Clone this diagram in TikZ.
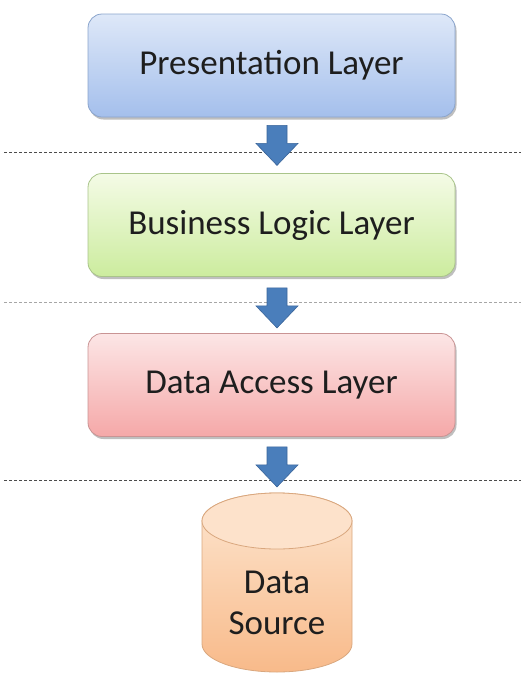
\documentclass[tikz,border=0pt]{standalone}
\usepackage{fontspec}
\setmainfont{Carlito}
\usetikzlibrary{shadows,calc}
\definecolor{txt}{HTML}{1E1E1E}
\definecolor{arrowfill}{HTML}{4A7EBB}
\definecolor{arrowedge}{HTML}{3A659A}
\definecolor{presdraw}{HTML}{8AA4CC}
\definecolor{prestop}{HTML}{DEE8F8}
\definecolor{presbot}{HTML}{A4BFEC}
\definecolor{busdraw}{HTML}{A9C48A}
\definecolor{bustop}{HTML}{F4FBE6}
\definecolor{busbot}{HTML}{CCEC9E}
\definecolor{daldraw}{HTML}{C99494}
\definecolor{daltop}{HTML}{FCE6E6}
\definecolor{dalbot}{HTML}{F5A8A8}
\definecolor{dsdraw}{HTML}{D9A77E}
\definecolor{dstopc}{HTML}{FDE6D0}
\definecolor{dsbot}{HTML}{F8BA8A}
\definecolor{dslid}{HTML}{FDE2CB}
\tikzset{
  layerbox/.style={rectangle, rounded corners=14pt, minimum width=367pt, minimum height=103pt,
    inner sep=0pt, text=txt, font=\fontsize{35}{42}\selectfont, line width=0.8pt,
    drop shadow={shadow xshift=1.5pt, shadow yshift=-2.5pt, opacity=0.25, fill=black}},
  dashline/.style={line width=1pt, dash pattern=on 3pt off 2pt},
  blockarrow/.pic={
    \filldraw[fill=arrowfill, draw=arrowedge, line width=0.6pt]
      (-10,0) -- (10,0) -- (10,18) -- (21,18) -- (0,40) -- (-21,18) -- (-10,18) -- cycle;
  }
}
\begin{document}
\begin{tikzpicture}[x=1pt,y=-1pt]
\useasboundingbox (0,0) rectangle (521,673);
% dashed separators
\draw[dashline, draw=black!70] (4,152) -- (521,152);
\draw[dashline, draw=black!35] (4,302) -- (521,302);
\draw[dashline, draw=black!70] (4,480) -- (521,480);
% layers
\node[layerbox, draw=presdraw, top color=prestop, bottom color=presbot] (pres) at (271.5,65.5) {Presentation Layer};
\node[layerbox, draw=busdraw, top color=bustop, bottom color=busbot] (bus) at (271.5,225) {Business Logic Layer};
\node[layerbox, draw=daldraw, top color=daltop, bottom color=dalbot] (dal) at (271.5,385) {Data Access Layer};
% data source cylinder
\coordinate (dstop) at (277,493);
\path[top color=dstopc, bottom color=dsbot, draw=dsdraw, line width=0.8pt]
  (202,521) -- (202,644) arc[start angle=180, end angle=360, x radius=75, y radius=-28]
  -- (352,521) arc[start angle=0, end angle=180, x radius=75, y radius=-28] -- cycle;
\filldraw[fill=dslid, draw=dsdraw, line width=0.8pt] (277,521) ellipse[x radius=75, y radius=28];
\node[text=txt, font=\fontsize{35}{41}\selectfont, align=center, inner sep=0pt] (ds) at (277,603) {Data\\Source};
% arrows
\path ($(pres.south)+(5.5,8)$) pic {blockarrow};
\path ($(bus.south)+(5.5,11)$) pic {blockarrow};
\path ($(dal.south)+(5.5,10)$) pic {blockarrow};
\end{tikzpicture}
\end{document}
